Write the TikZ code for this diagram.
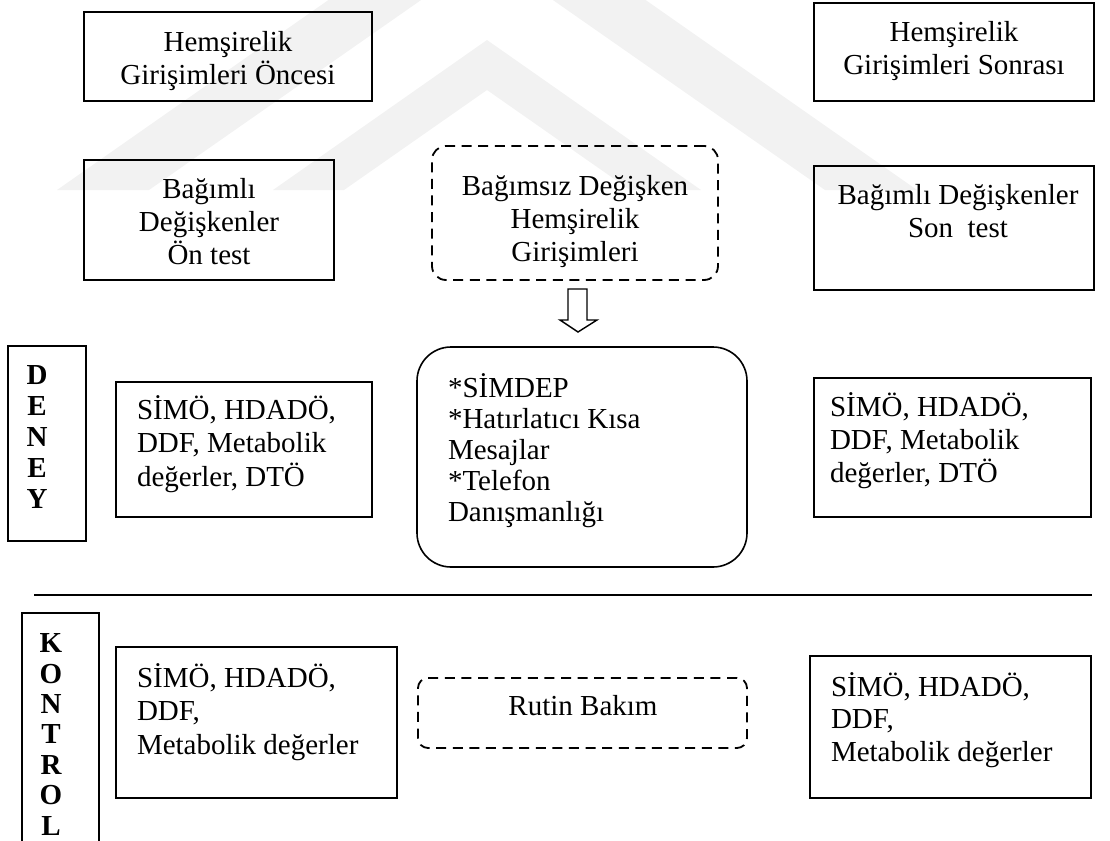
\documentclass[tikz,border=0pt]{standalone}
\usepackage{fontspec}
\setmainfont{Liberation Serif}
\begin{document}
\begin{tikzpicture}[x=0.5pt,y=-0.5pt,
  every node/.style={font=\fontsize{14.5}{16.5}\selectfont, inner sep=0pt, outer sep=0pt},
  box/.style={draw, line width=0.9pt, rectangle},
  dbox/.style={draw, line width=0.9pt, dash pattern=on 5pt off 3.3pt, rounded corners=7pt},
  rbox/.style={draw, line width=0.8pt, rounded corners=17pt},
  ltxt/.style={align=left, anchor=base west},
  ctxt/.style={align=center, anchor=base},
  stack/.style={font=\bfseries\fontsize{14.5}{15.4}\selectfont, align=center, anchor=base},
  wm/.style={fill=black!5, draw=none}
]
\useasboundingbox (0,0) rectangle (1110,841);
% faint watermark
\fill[wm] (57,190) -- (487,-111) -- (917,190) -- (825,190) -- (487,-46) -- (149,190) -- cycle;
\fill[wm] (273,190) -- (487,40) -- (701,190) -- (630,190) -- (487,90) -- (344,190) -- cycle;
% boxes
\node[box, minimum width=144pt, minimum height=44.5pt] (b1) at (228,56.5) {};
\node[box, minimum width=125pt, minimum height=60pt] (b2) at (209,220) {};
\node[dbox, minimum width=143pt, minimum height=67pt] (d1) at (575,213) {};
\node[box, minimum width=140pt, minimum height=49pt] (b3) at (954,52) {};
\node[box, minimum width=140pt, minimum height=62pt] (b4) at (954,228) {};
\node[box, minimum width=39pt, minimum height=97.5pt] (deney) at (47,443.5) {};
\node[box, minimum width=128pt, minimum height=67.5pt] (b5) at (244,449.5) {};
\node[rbox, minimum width=165pt, minimum height=110pt] (r1) at (582,457) {};
\node[box, minimum width=138.5pt, minimum height=69.5pt] (b6) at (952.5,447.5) {};
\node[box, minimum width=38.5pt, minimum height=118.5pt] (kontrol) at (60.5,731.5) {};
\node[box, minimum width=140.5pt, minimum height=75.5pt] (b7) at (256.5,722.5) {};
\node[dbox, rounded corners=5pt, minimum width=164.5pt, minimum height=35pt] (d2) at (582.5,713) {};
\node[box, minimum width=140.5pt, minimum height=71pt] (b8) at (950.5,727) {};
% separator
\coordinate (sepL) at (34,595);
\coordinate (sepR) at (1092,595);
\draw[line width=1pt] (sepL) -- (sepR);
% block arrow between d1 and r1
\draw[line width=0.7pt, fill=white] (568,289) -- (587,289) -- (587,320) -- (597,320) -- (578,332) -- (560,320) -- (568,320) -- cycle;
% texts (base = last line)
\node[ctxt] (t1) at (228,84) {Hemşirelik\\Girişimleri Öncesi};
\node[ctxt] (t2) at (209,264) {Bağımlı\\Değişkenler\\Ön test};
\node[ctxt] (t3) at (575,261) {Bağımsız Değişken\\Hemşirelik\\Girişimleri};
\node[ctxt] (t4) at (954,74) {Hemşirelik\\Girişimleri Sonrası};
\node[ctxt] (t5) at (958,237) {Bağımlı Değişkenler\\Son~~test};
\node[stack] (t6) at (37,508) {D\\E\\N\\E\\Y};
\node[ltxt, font=\fontsize{14.5}{16.75}\selectfont] (t7) at (137,486) {SİMÖ, HDADÖ,\\DDF, Metabolik\\değerler, DTÖ};
\node[ltxt, font=\fontsize{14.5}{15.5}\selectfont] (t8) at (448,521) {*SİMDEP\\*Hatırlatıcı Kısa\\Mesajlar\\*Telefon\\Danışmanlığı};
\node[ltxt] (t9) at (830,482) {SİMÖ, HDADÖ,\\DDF, Metabolik\\değerler, DTÖ};
\node[stack, font=\bfseries\fontsize{14.5}{15.2}\selectfont] (t10) at (51,835) {K\\O\\N\\T\\R\\O\\L};
\node[ltxt, font=\fontsize{14.5}{16.75}\selectfont] (t11) at (137,754) {SİMÖ, HDADÖ,\\DDF,\\Metabolik değerler};
\node[ctxt] (t12) at (583,715) {Rutin Bakım};
\node[ltxt, font=\fontsize{14.5}{16.25}\selectfont] (t13) at (831,761) {SİMÖ, HDADÖ,\\DDF,\\Metabolik değerler};
\end{tikzpicture}
\end{document}
